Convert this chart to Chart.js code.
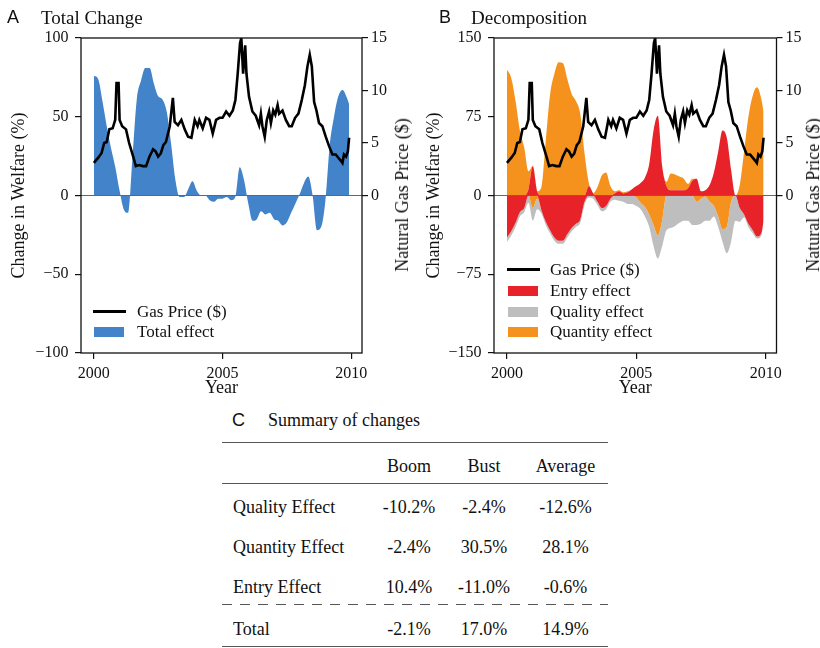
<!DOCTYPE html>
<html>
<head>
<meta charset="utf-8">
<script src="https://cdn.jsdelivr.net/npm/chart.js@4.4.1/dist/chart.umd.min.js"></script>
<style>
  body { margin: 0; background: #fff; }
  #page { position: relative; width: 820px; height: 648px; overflow: hidden;
          font-family: "Liberation Serif", "Times New Roman", serif; color: #111; }
  canvas { position: absolute; top: 0; }
  .t { position: absolute; white-space: nowrap; line-height: 1; }
  .sans { font-family: "Liberation Sans", Arial, sans-serif; }
  .sw { position: absolute; }
  .rule { position: absolute; left: 222px; width: 386px; height: 1.3px; background: #555; }
  .dash { background: repeating-linear-gradient(to right, #555 0 10px, transparent 10px 18px); }
</style>
</head>
<body>
<div id="page">
  <canvas id="chartA" width="410" height="400" style="left:0"></canvas>
  <canvas id="chartB" width="410" height="400" style="left:410px"></canvas>

  <div class="t sans" style="left:7px;top:8px;font-size:18px">A</div>
  <div class="t" style="left:41px;top:7.5px;font-size:19px">Total Change</div>
  <div class="t sans" style="left:439px;top:8px;font-size:18px">B</div>
  <div class="t" style="left:471px;top:7.5px;font-size:19px">Decomposition</div>

  <div class="t" style="left:402px;top:195px;font-size:18px;transform:translate(-50%,-50%) rotate(-90deg)">Natural Gas Price ($)</div>
  <div class="t" style="left:813px;top:195px;font-size:18px;transform:translate(-50%,-50%) rotate(-90deg)">Natural Gas Price ($)</div>

  <!-- legend A -->
  <div class="sw" style="left:93px;top:309.5px;width:33px;height:3px;background:#000"></div>
  <div class="t" style="left:137px;top:302.5px;font-size:17px">Gas Price ($)</div>
  <div class="sw" style="left:94px;top:327px;width:30px;height:10px;background:#4283c9"></div>
  <div class="t" style="left:137px;top:323px;font-size:17px">Total effect</div>

  <!-- legend B -->
  <div class="sw" style="left:507px;top:267.8px;width:33px;height:3px;background:#000"></div>
  <div class="t" style="left:550px;top:261px;font-size:17px">Gas Price ($)</div>
  <div class="sw" style="left:508px;top:285.5px;width:30px;height:10px;background:#e82229"></div>
  <div class="t" style="left:550px;top:281.5px;font-size:17px">Entry effect</div>
  <div class="sw" style="left:508px;top:306.5px;width:30px;height:10px;background:#bebebe"></div>
  <div class="t" style="left:550px;top:302.5px;font-size:17px">Quality effect</div>
  <div class="sw" style="left:508px;top:327px;width:30px;height:10px;background:#f5921e"></div>
  <div class="t" style="left:550px;top:323px;font-size:17px">Quantity effect</div>

  <!-- panel C -->
  <div class="t sans" style="left:232px;top:411px;font-size:18px">C</div>
  <div class="t" style="left:268px;top:411px;font-size:18px">Summary of changes</div>
  <div class="rule" style="top:441.7px"></div>
  <div class="rule" style="top:482.7px"></div>
  <div class="rule dash" style="top:603.7px"></div>
  <div class="rule" style="top:646px"></div>
  <div id="table"></div>
</div>

<script>
// time grid for the welfare effects (every two months, plus the last month)
const years = Array.from({ length: 60 }, (_, i) => 2000 + i / 6).concat([2009.92]);

// panel A
const totalEffect = [76, 74, 60, 44, 30, 18, 3, -9, -11, 24, 61, 73, 81, 81, 71, 63, 61, 53, 33, 10,
  -1, -1, 4, 9, 3, 0, 0, -3, -4, -2, -2, -1, -3, -1, 18, 10, -5, -16, -15, -10,
  -12, -11, -15, -16, -19, -17, -11, -5, 1, 8, 12, 0, -22, -20, -3, 32, 50, 63, 67, 62, 58];

// panel B
const entryEffect = [-40, -34, -26, -16, -12, 6, 28, 4, -14, -25, -33, -40, -43, -43, -37, -31, -27, -23, -6, 9,
  2, -6, -12, -10, -3, 2, 4, 2, 3, 6, 9, 12, 17, 30, 62, 76, 28, 9, 5, 5,
  5, 5, 7, 14, 16, 4, 5, 10, 22, 42, 62, 55, 24, 0, -12, -18, -27, -33, -39, -36, -24];
const qualityEffect = [-4, -4, -4, -4, -4, -7, -12, -10, -3, -3, -3, -3, -3, -3, -3, -3, -3, -3, -3, -2,
  -3, -3, -3, -3, -3, -4, -5, -6, -8, -8, -8, -6, -9, -12, -20, -22, -24, -33, -31, -29,
  -26, -24, -24, -28, -22, -24, -23, -18, -10, -10, -12, -25, -38, -24, -13, -3, -3, -3, -2, -2, -2];
const quantityEffect = [120, 112, 90, 62, 46, 17, -12, -3, 8, 52, 96, 116, 127, 126, 111, 97, 90, 78, 40, 3,
  0, 8, 19, 22, 9, 2, 1, 1, 1, 0, -2, -7, -11, -18, -28, -38, -24, 4, 16, 15,
  13, 11, 4, 2, -6, -3, -1, -6, -10, -20, -32, -30, -6, 0, 10, 42, 75, 95, 103, 92, 80];

// natural gas price ($)
const gasYears = [2000.00, 2000.17, 2000.30, 2000.40, 2000.50, 2000.60, 2000.73, 2000.83, 2000.88, 2000.96,
  2001.00, 2001.10, 2001.25, 2001.37, 2001.54, 2001.63, 2001.76, 2001.90, 2002.03, 2002.16,
  2002.30, 2002.40, 2002.50, 2002.60, 2002.70, 2002.80, 2002.95, 2003.07, 2003.14, 2003.27,
  2003.40, 2003.53, 2003.66, 2003.79, 2003.92, 2004.03, 2004.10, 2004.23, 2004.36, 2004.49,
  2004.62, 2004.75, 2004.88, 2005.00, 2005.14, 2005.27, 2005.40, 2005.50, 2005.59, 2005.68,
  2005.73, 2005.80, 2005.88, 2005.93, 2006.03, 2006.16, 2006.29, 2006.42, 2006.49, 2006.55,
  2006.64, 2006.72, 2006.81, 2006.88, 2006.97, 2007.05, 2007.14, 2007.20, 2007.33, 2007.46,
  2007.59, 2007.69, 2007.82, 2007.95, 2008.08, 2008.20, 2008.30, 2008.39, 2008.47, 2008.56,
  2008.65, 2008.75, 2008.88, 2009.01, 2009.14, 2009.27, 2009.40, 2009.50, 2009.60, 2009.66,
  2009.72, 2009.80, 2009.87, 2009.92];
const gasPrice = [3.1, 3.6, 4.05, 5.0, 5.1, 6.3, 6.4, 7.2, 10.7, 10.7,
  7.2, 6.6, 6.3, 5.0, 3.6, 2.8, 2.9, 2.8, 2.8, 3.7,
  4.4, 4.2, 3.7, 4.0, 4.8, 5.1, 6.6, 9.3, 7.0, 6.7,
  7.2, 6.3, 5.6, 5.5, 7.2, 6.6, 7.2, 6.4, 7.4, 7.2,
  5.9, 7.2, 7.4, 7.4, 8.0, 7.6, 8.1, 9.1, 11.6, 14.5,
  15.0, 11.6, 14.3, 11.6, 9.4, 8.0, 7.6, 6.7, 7.8, 6.6,
  5.6, 7.2, 8.0, 6.9, 8.1, 7.7, 8.6, 7.8, 8.1, 7.2,
  6.6, 6.6, 7.4, 7.8, 9.1, 10.5, 12.3, 13.4, 12.3, 8.9,
  8.1, 6.9, 6.6, 5.6, 4.7, 3.9, 3.9, 3.6, 3.3, 3.1,
  3.9, 3.7, 4.2, 5.5];

const xTicks = [2000, 2005, 2010];
const gasTicks = [0, 5, 10, 15];

// panel C
const tableCols = ['Boom', 'Bust', 'Average'];
const tableRows = ['Quality Effect', 'Quantity Effect', 'Entry Effect', 'Total'];
const boomVals = ['-10.2%', '-2.4%', '10.4%', '-2.1%'];
const bustVals = ['-2.4%', '30.5%', '-11.0%', '17.0%'];
const averageVals = ['-12.6%', '28.1%', '-0.6%', '14.9%'];

const SERIF = '"Liberation Serif", "Times New Roman", serif';
const BLUE = '#4283c9', RED = '#e82229', GREY = '#bebebe', ORANGE = '#f5921e';

const pts = (xs, ys) => ys.map((y, i) => ({ x: xs[i], y: y }));
const pos = arr => arr.map(v => Math.max(v, 0));
const neg = arr => arr.map(v => Math.min(v, 0));
const minus = v => (v < 0 ? '\u2212' + Math.abs(v) : String(v));

function area(label, values, color, fill, stack) {
  return {
    label: label, data: pts(years, values), yAxisID: 'y',
    backgroundColor: color, borderColor: color, borderWidth: 0,
    pointRadius: 0, fill: fill, stack: stack, cubicInterpolationMode: 'monotone'
  };
}

function gasLine() {
  return {
    label: 'Gas Price ($)', data: pts(gasYears, gasPrice), yAxisID: 'y2',
    borderColor: '#000', borderWidth: 2.6, pointRadius: 0, fill: false, tension: 0
  };
}

// box around the plot and the zero line
const framePlugin = {
  id: 'frame',
  afterDatasetsDraw(chart) {
    const { ctx, chartArea: a, scales } = chart;
    const y0 = scales.y.getPixelForValue(0);
    ctx.save();
    ctx.strokeStyle = '#666';
    ctx.lineWidth = 1.2;
    ctx.beginPath();
    ctx.moveTo(a.left, y0);
    ctx.lineTo(a.right, y0);
    ctx.stroke();
    ctx.strokeStyle = '#111';
    ctx.lineWidth = 1.3;
    ctx.strokeRect(a.left, a.top, a.right - a.left, a.bottom - a.top);
    ctx.restore();
  }
};

function makeOptions(yMax, yStep, leftW, rightW, titlePad, stacked) {
  const tickFont = { family: SERIF, size: 16 };
  const grid = { drawOnChartArea: false, tickLength: 6, color: '#111', lineWidth: 1.2 };
  return {
    responsive: false,
    animation: false,
    devicePixelRatio: 1,
    layout: { padding: { top: 38, left: 0, right: 0, bottom: 0 } },
    plugins: { legend: { display: false }, tooltip: { enabled: false } },
    scales: {
      x: {
        type: 'linear', min: 1999.5, max: 2010.42,
        afterBuildTicks: s => { s.ticks = xTicks.map(v => ({ value: v })); },
        afterFit: s => { s.height = 47; },
        ticks: { font: tickFont, color: '#111', padding: 5, maxRotation: 0, autoSkip: false,
                 callback: v => String(v) },
        grid: grid,
        border: { display: false },
        title: { display: true, text: 'Year', color: '#111',
                 font: { family: SERIF, size: 18, lineHeight: 1 }, padding: { top: 0, bottom: 3 } }
      },
      y: {
        min: -yMax, max: yMax, stacked: stacked,
        afterFit: s => { s.width = leftW; },
        ticks: { stepSize: yStep, font: tickFont, color: '#111', padding: 6.5, callback: minus },
        grid: grid,
        border: { display: false },
        title: { display: true, text: 'Change in Welfare (%)', color: '#111',
                 font: { family: SERIF, size: 18, lineHeight: 1 }, padding: { top: titlePad, bottom: 0 } }
      },
      y2: {
        position: 'right', min: -15, max: 15,
        afterBuildTicks: s => { s.ticks = gasTicks.map(v => ({ value: v })); },
        afterFit: s => { s.width = rightW; },
        ticks: { font: tickFont, color: '#111', padding: 3 },
        grid: grid,
        border: { display: false }
      }
    }
  };
}

new Chart(document.getElementById('chartA'), {
  type: 'line',
  data: {
    datasets: [
      gasLine(),
      area('Total effect', totalEffect, BLUE, 'origin', 'a')
    ]
  },
  options: makeOptions(100, 50, 81, 48, 10.6, false),
  plugins: [framePlugin]
});

// positive and negative parts are stacked separately
new Chart(document.getElementById('chartB'), {
  type: 'line',
  data: {
    datasets: [
      gasLine(),
      area('Entry effect', pos(entryEffect), RED, 'origin', 'pos'),
      area('Quality effect', pos(qualityEffect), GREY, 1, 'pos'),
      area('Quantity effect', pos(quantityEffect), ORANGE, 2, 'pos'),
      area('Entry effect', neg(entryEffect), RED, 'origin', 'neg'),
      area('Quantity effect', neg(quantityEffect), ORANGE, 4, 'neg'),
      area('Quality effect', neg(qualityEffect), GREY, 5, 'neg')
    ]
  },
  options: makeOptions(150, 75, 84, 43.5, 15.6, true),
  plugins: [framePlugin]
});

// summary table
const rowTops = [498.2, 538.2, 578.2, 619.9];
const colCenters = [409, 484, 565.5];
const cols = [boomVals, bustVals, averageVals];
const tbl = document.getElementById('table');
function cell(text, left, top, center) {
  const d = document.createElement('div');
  d.className = 't';
  d.style.fontSize = '18px';
  d.style.top = top + 'px';
  if (center) {
    d.style.left = (left - 50) + 'px';
    d.style.width = '100px';
    d.style.textAlign = 'center';
  } else {
    d.style.left = left + 'px';
  }
  d.textContent = text;
  tbl.appendChild(d);
}
tableCols.forEach((c, j) => cell(c, colCenters[j], 456.6, true));
tableRows.forEach((r, i) => {
  cell(r, 233, rowTops[i], false);
  cols.forEach((vals, j) => cell(vals[i], colCenters[j], rowTops[i], true));
});
</script>
</body>
</html>
